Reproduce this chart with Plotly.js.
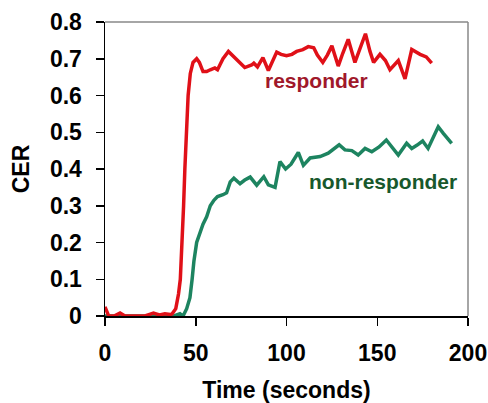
<!DOCTYPE html>
<html>
<head>
<meta charset="utf-8">
<script src="https://cdn.plot.ly/plotly-3.0.1.min.js"></script>
<style>
html,body{margin:0;padding:0;background:#fff;}
#chart{width:488px;height:403px;}
</style>
</head>
<body>
<div id="chart"></div>
<script>
// Responder series (time in seconds, CER)
const responderTime = [0,2,5,8.3,11,15,18,22,25,26.7,30,33,36,37,39,40.5,41.5,42.5,43.3,44,45,45.8,47,48.5,50.5,52,54,56,58,60.5,62,65,68,71,74,77,80.8,82,84,87,90,92,94.6,97,100,103,105.6,109,112,115,117,120,122.5,125,128.5,131,134,137.7,140.5,143.5,146,148,151.5,154.5,157,161.6,165.3,169,173.6,177,180];
const responderCER = [0.025,0.0,0.0,0.008,0.0,0.0,0.002,0.0,0.005,0.008,0.003,0.006,0.004,0.006,0.02,0.06,0.10,0.2,0.3,0.4,0.5,0.6,0.66,0.69,0.70,0.69,0.665,0.665,0.67,0.675,0.67,0.70,0.72,0.705,0.69,0.676,0.683,0.688,0.678,0.703,0.668,0.69,0.718,0.712,0.708,0.712,0.72,0.725,0.733,0.73,0.71,0.69,0.71,0.735,0.68,0.715,0.753,0.69,0.73,0.768,0.72,0.69,0.712,0.695,0.67,0.695,0.645,0.725,0.712,0.705,0.688];

// Non-responder series
const nonResponderTime = [0,10,20,30,38,41.3,43,45,46.8,48,49,50.5,52.3,54,56,58,60,62,65,67,69,71,74.4,77,80,83.6,87.5,90,93.7,96.4,99.5,102.5,106.5,109.3,113,116,118.5,123,126,129,132.2,136,139.5,143.3,147,151,155,158,161.6,166.2,169,172,175,178,181,183.6,186.4,189,191];
const nonResponderCER = [0.0,0.0,0.0,0.0,0.0,0.006,0.0,0.02,0.05,0.1,0.15,0.2,0.225,0.25,0.27,0.3,0.315,0.325,0.33,0.335,0.365,0.375,0.36,0.37,0.378,0.356,0.379,0.357,0.35,0.42,0.4,0.413,0.445,0.41,0.43,0.432,0.434,0.443,0.455,0.466,0.452,0.45,0.438,0.456,0.447,0.46,0.479,0.46,0.438,0.47,0.456,0.465,0.476,0.456,0.49,0.515,0.497,0.48,0.47];

const xTicks = [0,50,100,150,200];
const yTicks = [0,0.1,0.2,0.3,0.4,0.5,0.6,0.7,0.8];
const yTickText = ['0','0.1','0.2','0.3','0.4','0.5','0.6','0.7','0.8'];

const seriesLabels = ['responder','non-responder'];

const traces = [
  {x: nonResponderTime, y: nonResponderCER, mode:'lines', line:{color:'#1d8460', width:3.5}},
  {x: responderTime, y: responderCER, mode:'lines', line:{color:'#e01018', width:3.5}}
];

const fontFam = 'Arial, "Liberation Sans", sans-serif';

const layout = {
  width: 488, height: 403,
  margin: {l:105, r:20, t:22, b:87},
  paper_bgcolor:'#ffffff', plot_bgcolor:'#ffffff',
  showlegend:false,
  font:{family:fontFam, color:'#000'},
  xaxis:{
    range:[0,200], tickvals:xTicks, ticks:'outside', ticklen:8, tickwidth:1.5, tickcolor:'#000',
    showline:true, linecolor:'#000', linewidth:1.5, showgrid:false, zeroline:false,
    ticklabelstandoff:8,
    tickfont:{size:23, family:fontFam, weight:'bold'},
    title:{text:'<b>Time (seconds)</b>', font:{size:23, family:fontFam}, standoff:21}
  },
  yaxis:{
    range:[0,0.8], tickvals:yTicks, ticktext:yTickText, ticks:'outside', ticklen:8, tickwidth:1.5, tickcolor:'#000',
    showline:true, linecolor:'#000', linewidth:1.5, showgrid:false, zeroline:false,
    ticklabelstandoff:9,
    tickfont:{size:23, family:fontFam, weight:'bold'},
    title:{text:'<b>CER</b>', font:{size:23, family:fontFam}, standoff:14}
  },
  shapes:[
    {type:'line', xref:'paper', yref:'paper', x0:0, x1:1, y0:1, y1:1, line:{color:'#888', width:1.5}},
    {type:'line', xref:'paper', yref:'paper', x0:1, x1:1, y0:0, y1:1, line:{color:'#888', width:1.5}}
  ],
  annotations:[
    {x:116.5, y:0.642, xref:'x', yref:'y', text:'<b>'+seriesLabels[0]+'</b>', showarrow:false, font:{size:21, color:'#a0182a', family:fontFam}},
    {x:153.2, y:0.367, xref:'x', yref:'y', text:'<b>'+seriesLabels[1]+'</b>', showarrow:false, font:{size:21, color:'#18582c', family:fontFam}}
  ]
};

Plotly.newPlot('chart', traces, layout, {displayModeBar:false, staticPlot:true});
</script>
</body>
</html>
